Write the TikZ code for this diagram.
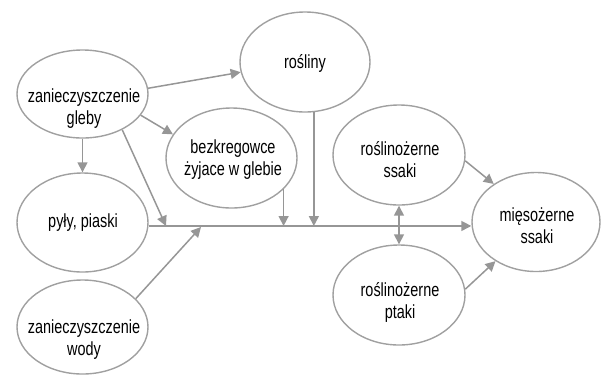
\documentclass[tikz,border=0pt]{standalone}
\usepackage{fontspec}
\setmainfont{Liberation Sans}
\newfontfamily\nodefont[FakeStretch=0.76]{Liberation Sans}
\usetikzlibrary{shapes.geometric,arrows.meta}
\definecolor{edgegray}{RGB}{160,160,160}
\definecolor{arrowgray}{RGB}{150,150,150}
\begin{document}
\begin{tikzpicture}[x=1pt,y=-1pt,
  bubble/.style={ellipse, draw=edgegray, line width=1.4pt, inner sep=0pt},
  lbl/.style={font=\nodefont\fontsize{19}{22}\selectfont, align=center, anchor=base, inner sep=0pt},
  arr/.style={draw=arrowgray, line width=1.5pt, -{Triangle[length=10pt,width=10pt]}},
  darr/.style={draw=arrowgray, line width=1.5pt, {Triangle[length=10pt,width=10pt]}-{Triangle[length=10pt,width=10pt]}}
]
\useasboundingbox (0,0) rectangle (602,376);

% ellipses
\node[bubble, minimum width=131pt, minimum height=88pt]  (gleby)   at (82.5,94)  {};
\node[bubble, minimum width=130pt, minimum height=100pt] (rosliny) at (305,62)   {};
\node[bubble, minimum width=131pt, minimum height=100pt] (bezkr)   at (231.5,158) {};
\node[bubble, minimum width=131pt, minimum height=99pt]  (pyly)    at (82.5,222.5) {};
\node[bubble, minimum width=131pt, minimum height=94pt]  (wody)    at (82.5,327) {};
\node[bubble, minimum width=132pt, minimum height=100pt] (ssaki)   at (399,155)  {};
\node[bubble, minimum width=128pt, minimum height=99pt]  (mieso)   at (536,222)  {};
\node[bubble, minimum width=132pt, minimum height=100pt] (ptaki)   at (399,295)  {};

% texts (base anchor = baseline of the last line)
\node[lbl] (gleby-t)   at (84,124)  {zanieczyszczenie\\gleby};
\node[lbl] (rosliny-t) at (305,68)  {rośliny};
\node[lbl] (bezkr-t)   at (233,175) {bezkregowce\\żyjace w glebie};
\node[lbl] (pyly-t)    at (83,227)  {pyły, piaski};
\node[lbl] (wody-t)    at (84,355)  {zanieczyszczenie\\wody};
\node[lbl] (ssaki-t)   at (400,177) {roślinożerne\\ssaki};
\node[lbl] (mieso-t)   at (537,243) {mięsożerne\\ssaki};
\node[lbl] (ptaki-t)   at (400,318) {roślinożerne\\ptaki};

% main line junctions
\coordinate (j1) at (166,226);
\coordinate (j2) at (201,227);

% connectors
\draw[arr] (gleby.5) -- (rosliny.189);
\draw[arr] (gleby.-20) -- (bezkr.158);
\draw[arr] (gleby.south) -- (pyly.north);
\draw[arr] (gleby.-42) -- (j1);
\draw[arr] (pyly.-3) -- (pyly.-3 -| mieso.west);
\draw[arr] (wody.28) -- (j2);
\draw[arr] (bezkr.-31.6) -- (bezkr.-31.6 |- j1);
\draw[arr] (rosliny.-80.8) -- (rosliny.-80.8 |- j1);
\draw[arr] (ssaki.-5) -- (mieso.138);
\draw[darr] (ssaki.south) -- (ptaki.north);
\draw[arr] (ptaki.5) -- (mieso.224);
\end{tikzpicture}
\end{document}
